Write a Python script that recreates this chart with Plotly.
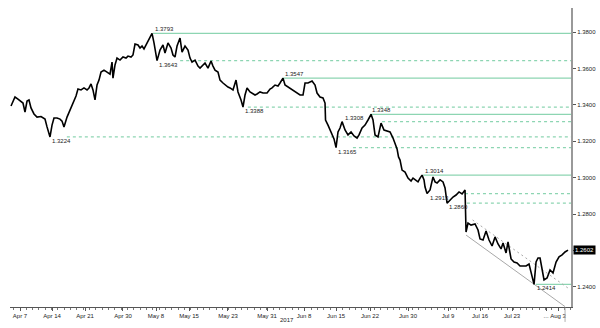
import plotly.graph_objects as go

# ---- price series (trading-day index since Apr 7, price) ----
x_days = [-1.42, -0.79, -0.32, 0.16, 0.47, 0.79, 1.11, 1.42, 1.74, 2.21,
          2.69, 3.32, 3.95, 4.27, 4.58, 4.74, 5.06, 5.37, 5.85, 6.32,
          6.64, 6.95, 7.43, 7.90, 8.37, 8.85, 9.16, 9.64, 10.11, 10.59,
          10.90, 11.22, 11.53, 11.85, 12.17, 12.48, 12.80, 13.27, 13.75, 14.22,
          14.54, 14.69, 15.01, 15.33, 15.80, 16.27, 16.75, 17.06, 17.54, 17.85,
          18.17, 18.64, 18.96, 19.28, 19.59, 20.07, 20.54, 20.86, 21.17, 21.49,
          21.65, 22.12, 22.59, 22.91, 23.38, 23.86, 24.17, 24.49, 24.81, 25.28,
          25.60, 26.07, 26.54, 26.86, 27.18, 27.65, 28.12, 28.44, 28.91, 29.23,
          29.70, 30.18, 30.49, 30.81, 31.28, 31.60, 32.07, 32.39, 32.86, 33.18,
          33.65, 34.13, 34.44, 34.92, 35.23, 35.55, 35.87, 36.34, 36.66, 37.13,
          37.45, 37.92, 38.39, 39.03, 39.50, 39.82, 40.29, 40.76, 41.08, 41.55,
          41.87, 42.34, 42.82, 43.29, 43.77, 44.24, 44.71, 45.03, 45.50, 45.82,
          46.14, 46.61, 46.93, 47.40, 47.87, 48.19, 48.27, 48.66, 49.14, 49.61,
          49.93, 50.24, 50.56, 50.88, 51.35, 51.82, 52.30, 52.77, 53.25, 53.56,
          54.04, 54.51, 54.98, 55.46, 55.77, 56.09, 56.56, 57.04, 57.51, 57.99,
          58.46, 58.93, 59.25, 59.57, 59.80, 60.04, 60.36, 60.83, 61.30, 61.78,
          62.09, 62.41, 62.88, 63.20, 63.52, 63.83, 63.99, 64.31, 64.78, 65.25,
          65.57, 65.89, 66.36, 66.83, 67.15, 67.47, 67.94, 68.41, 68.89, 69.36,
          69.84, 70.31, 70.47, 70.78, 71.26, 71.89, 72.36, 72.68, 73.15, 73.63,
          74.10, 74.58, 75.05, 75.52, 76.00, 76.31, 76.79, 77.10, 77.58, 78.05,
          78.53, 79.00, 79.47, 79.95, 80.42, 80.74, 81.21, 81.53, 81.84, 82.16,
          82.48, 82.79, 83.27, 83.74, 84.21, 84.69, 85.16, 85.64, 86.11, 86.58]

price = [1.3394, 1.3443, 1.3432, 1.3421, 1.3410, 1.3361, 1.3421, 1.3427, 1.3383, 1.3350,
         1.3333, 1.3336, 1.3322, 1.3279, 1.3235, 1.3224, 1.3289, 1.3328, 1.3328, 1.3322,
         1.3311, 1.3279, 1.3333, 1.3372, 1.3410, 1.3449, 1.3487, 1.3482, 1.3493, 1.3482,
         1.3493, 1.3515, 1.3482, 1.3427, 1.3509, 1.3536, 1.3580, 1.3591, 1.3580, 1.3569,
         1.3635, 1.3547, 1.3619, 1.3657, 1.3646, 1.3663, 1.3657, 1.3668, 1.3663, 1.3674,
         1.3734, 1.3729, 1.3712, 1.3723, 1.3707, 1.3740, 1.3767, 1.3793, 1.3740, 1.3685,
         1.3643, 1.3701, 1.3729, 1.3685, 1.3740, 1.3712, 1.3674, 1.3663, 1.3723, 1.3767,
         1.3690, 1.3723, 1.3701, 1.3657, 1.3635, 1.3646, 1.3613, 1.3602, 1.3619, 1.3630,
         1.3602, 1.3641, 1.3613, 1.3591, 1.3580, 1.3536, 1.3520, 1.3509, 1.3498, 1.3493,
         1.3482, 1.3536, 1.3471, 1.3427, 1.3388, 1.3454, 1.3493, 1.3471, 1.3465, 1.3454,
         1.3460, 1.3471, 1.3465, 1.3465, 1.3487, 1.3493, 1.3509, 1.3504, 1.3520, 1.3547,
         1.3509, 1.3498, 1.3487, 1.3476, 1.3465, 1.3454, 1.3454, 1.3520, 1.3520, 1.3526,
         1.3531, 1.3509, 1.3465, 1.3443, 1.3438, 1.3410, 1.3317, 1.3289, 1.3246, 1.3213,
         1.3165, 1.3251, 1.3273, 1.3308, 1.3262, 1.3235, 1.3251, 1.3229, 1.3218, 1.3235,
         1.3273, 1.3289, 1.3317, 1.3348, 1.3317, 1.3235, 1.3224, 1.3300, 1.3262, 1.3257,
         1.3251, 1.3218, 1.3191, 1.3158, 1.3114, 1.3097, 1.3042, 1.3031, 1.2998, 1.2982,
         1.2998, 1.2988, 1.2977, 1.2998, 1.3014, 1.2988, 1.2949, 1.2913, 1.2933, 1.3004,
         1.2977, 1.2971, 1.2988, 1.2977, 1.2944, 1.2860, 1.2878, 1.2894, 1.2905, 1.2922,
         1.2911, 1.2933, 1.2702, 1.2751, 1.2740, 1.2746, 1.2713, 1.2664, 1.2658, 1.2708,
         1.2658, 1.2625, 1.2675, 1.2636, 1.2609, 1.2642, 1.2587, 1.2647, 1.2554, 1.2537,
         1.2532, 1.2515, 1.2515, 1.2515, 1.2526, 1.2482, 1.2414, 1.2537, 1.2559, 1.2559,
         1.2493, 1.2439, 1.2449, 1.2493, 1.2477, 1.2537, 1.2565, 1.2576, 1.2592, 1.2602]

# ---- support / resistance levels ----
level_values = [1.3793, 1.3643, 1.3547, 1.3388, 1.3348, 1.3308, 1.3224, 1.3165, 1.3014, 1.2913, 1.2860, 1.2414]
level_start = [21.0, 25.3, 41.55, 36.0, 55.3, 57.2, 7.4, 52.6, 63.7, 70.3, 70.6, 81.5]
level_label_day = [21.0, 21.65, 41.55, 35.23, 55.3, 51.0, 4.74, 49.93, 63.67, 64.46, 67.47, 81.37]
level_solid = [True, False, True, False, True, False, False, False, True, False, False, True]
level_above = [True, False, True, False, True, True, False, False, True, False, False, False]

# ---- trend channel ----
chan_lower_x = [70.47, 86.11]
chan_lower_y = [1.2685, 1.2292]
chan_upper_x = [71.5, 86.58]
chan_upper_y = [1.2768, 1.2394]

last_price = 1.2602

# ---- axes ----
tick_days = [0, 5.06, 10.27, 16.27, 21.49, 26.70, 32.86, 39.03, 44.87, 49.93,
             55.30, 61.30, 67.62, 72.68, 77.74, 83.11, 85.0]
tick_labels = ["Apr 7", "Apr 14", "Apr 21", "Apr 30", "May 8", "May 15", "May 23", "May 31",
               "Jun 8", "Jun 15", "Jun 22", "Jun 30", "Jul 9", "Jul 16", "Jul 23", "...", "Aug 3"]
y_ticks = [1.24, 1.28, 1.30, 1.32, 1.34, 1.36, 1.38]
y_ticks_all = [1.24, 1.26, 1.28, 1.30, 1.32, 1.34, 1.36, 1.38]
year_label = "2017"
year_day = 42.19

X_MIN, X_MAX = -1.58, 87.05
Y_MIN, Y_MAX = 1.2290, 1.3932

n = min(len(x_days), len(price))
FONT = "Liberation Sans, Arial, sans-serif"
GREEN = "#8dd5b2"

fig = go.Figure()

# level lines
for v, s, solid in zip(level_values, level_start, level_solid):
    fig.add_trace(go.Scatter(
        x=[s, X_MAX], y=[v, v], mode="lines", hoverinfo="skip", showlegend=False,
        line=dict(color=GREEN, width=1.3, dash="solid" if solid else "3px,3px")))

# channel lines
fig.add_trace(go.Scatter(x=chan_lower_x, y=chan_lower_y, mode="lines", showlegend=False,
                         hoverinfo="skip", line=dict(color="#a8a8a8", width=1)))
fig.add_trace(go.Scatter(x=chan_upper_x, y=chan_upper_y, mode="lines", showlegend=False,
                         hoverinfo="skip", line=dict(color="#a8a8a8", width=1, dash="2px,3px")))

# price line
fig.add_trace(go.Scatter(x=x_days[:n], y=price[:n], mode="lines", showlegend=False,
                         line=dict(color="black", width=1.6)))

# level labels
for v, d, above in zip(level_values, level_label_day, level_above):
    fig.add_annotation(x=d, y=v, text=f"{v:.4f}", showarrow=False, xanchor="left",
                       yanchor="middle", yshift=4 if above else -4,
                       font=dict(family=FONT, size=6, color="#222"))

# year label (below the x axis)
fig.add_annotation(x=year_day, xref="x", y=0, yref="paper", text=year_label, showarrow=False,
                   xanchor="center", yanchor="top", yshift=-8,
                   font=dict(family=FONT, size=6, color="#222"))

# last price box
fig.add_annotation(x=1, xref="paper", y=last_price, yref="y", text=f"{last_price:.4f}",
                   showarrow=False, xanchor="left", yanchor="middle", xshift=2, bgcolor="black",
                   borderpad=1, font=dict(family=FONT, size=6, color="white"))

# vertical marker below axis
fig.add_shape(type="line", xref="x", x0=chan_lower_x[1], x1=chan_lower_x[1], yref="paper",
              y0=-0.002, y1=-0.05, line=dict(color="#b0b0b0", width=1))

fig.update_layout(
    width=600, height=328,
    margin=dict(l=10, r=29, t=8, b=21, autoexpand=False),
    paper_bgcolor="white", plot_bgcolor="white",
    showlegend=False,
    xaxis=dict(range=[X_MIN, X_MAX], tickvals=tick_days, ticktext=tick_labels,
               tickangle=0, automargin=False,
               showgrid=False, zeroline=False, showline=True, linecolor="#555", linewidth=1,
               ticks="outside", ticklen=3, tickcolor="#555", tickwidth=1,
               minor=dict(dtick=1, tick0=0, ticks="outside", ticklen=2, tickcolor="#777"),
               tickfont=dict(family=FONT, size=6, color="#222")),
    yaxis=dict(range=[Y_MIN, Y_MAX], side="right", tickvals=y_ticks_all, automargin=False,
               ticktext=[f"{t:.4f}" if t in y_ticks else "" for t in y_ticks_all],
               showgrid=False, zeroline=False, showline=True, linecolor="#999", linewidth=2,
               ticks="outside", ticklen=3, tickcolor="#555", tickwidth=1,
               tickfont=dict(family=FONT, size=6, color="#222")),
)

fig.write_html("out.html", config={"displayModeBar": False})
